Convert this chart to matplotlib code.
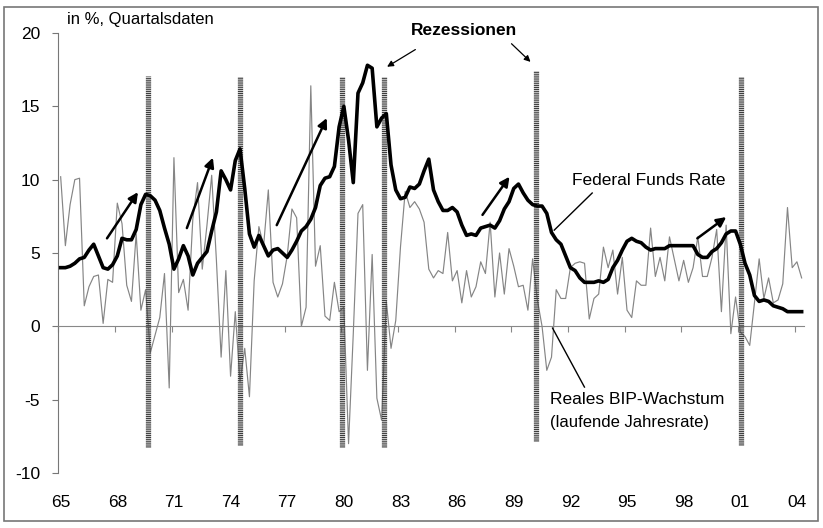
import matplotlib.pyplot as plt
from matplotlib.patches import Rectangle
import numpy as np

plt.rcParams['font.family'] = ['Liberation Sans', 'DejaVu Sans']
plt.rcParams['axes.unicode_minus'] = False

# quarterly data, 1965 Q1 - 2004 Q2
start_year = 1965

fed_funds = [
    4.0, 4.0, 4.1, 4.3,    4.6, 4.7, 5.2, 5.6,    4.8, 4.0, 3.9, 4.2,    # 65-67
    4.8, 6.0, 5.9, 5.9,    6.6, 8.3, 9.0, 8.9,    8.6, 7.9, 6.7, 5.6,    # 68-70
    3.9, 4.6, 5.5, 4.8,    3.5, 4.3, 4.7, 5.1,    6.5, 7.8, 10.6, 10.0,  # 71-73
    9.3, 11.3, 12.1, 9.4,  6.3, 5.4, 6.2, 5.5,    4.8, 5.2, 5.3, 5.0,    # 74-76
    4.7, 5.2, 5.8, 6.5,    6.8, 7.3, 8.1, 9.6,    10.1, 10.2, 10.9, 13.6,  # 77-79
    15.0, 12.7, 9.8, 15.9, 16.6, 17.8, 17.6, 13.6, 14.2, 14.5, 11.0, 9.3,  # 80-82
    8.7, 8.8, 9.5, 9.4,    9.7, 10.6, 11.4, 9.3,  8.5, 7.9, 7.9, 8.1,    # 83-85
    7.8, 6.9, 6.2, 6.3,    6.2, 6.7, 6.8, 6.9,    6.7, 7.2, 8.0, 8.5,    # 86-88
    9.4, 9.7, 9.1, 8.6,    8.3, 8.2, 8.2, 7.7,    6.4, 5.9, 5.6, 4.8,    # 89-91
    4.0, 3.8, 3.3, 3.0,    3.0, 3.0, 3.1, 3.0,    3.2, 4.0, 4.5, 5.2,    # 92-94
    5.8, 6.0, 5.8, 5.7,    5.4, 5.2, 5.3, 5.3,    5.3, 5.5, 5.5, 5.5,    # 95-97
    5.5, 5.5, 5.5, 4.9,    4.7, 4.7, 5.1, 5.3,    5.7, 6.3, 6.5, 6.5,    # 98-00
    5.6, 4.3, 3.5, 2.1,    1.7, 1.8, 1.7, 1.4,    1.3, 1.2, 1.0, 1.0,    # 01-03
    1.0, 1.0,                                                            # 04
]

gdp_growth = [
    10.2, 5.5, 8.3, 10.0,  10.1, 1.4, 2.7, 3.4,   3.5, 0.2, 3.2, 3.0,    # 65-67
    8.4, 7.0, 2.8, 1.7,    6.3, 1.1, 2.5, -1.8,   -0.6, 0.6, 3.6, -4.2,  # 68-70
    11.5, 2.3, 3.2, 1.1,   7.3, 9.8, 3.9, 6.9,    10.3, 4.5, -2.1, 3.8,  # 71-73
    -3.4, 1.0, -3.8, -1.5, -4.8, 3.1, 6.8, 5.5,   9.3, 3.0, 2.0, 2.9,    # 74-76
    4.8, 8.0, 7.4, 0.0,    1.3, 16.4, 4.1, 5.5,   0.7, 0.4, 3.0, 1.0,    # 77-79
    1.3, -8.0, -0.5, 7.7,  8.3, -3.0, 4.9, -4.9,  -6.4, 1.7, -1.5, 0.4,  # 80-82
    5.4, 9.2, 8.1, 8.5,    8.0, 7.1, 3.9, 3.3,    3.8, 3.6, 6.4, 3.1,    # 83-85
    3.8, 1.6, 3.8, 2.0,    2.7, 4.4, 3.6, 7.1,    2.0, 5.0, 2.2, 5.3,    # 86-88
    4.1, 2.7, 2.8, 1.1,    4.6, 1.8, 0.0, -3.0,   -2.1, 2.5, 1.9, 1.9,   # 89-91
    4.0, 4.3, 4.4, 4.3,    0.5, 1.9, 2.2, 5.4,    4.0, 5.2, 2.2, 4.7,    # 92-94
    1.1, 0.6, 3.1, 2.8,    2.8, 6.7, 3.4, 4.7,    3.1, 6.1, 4.6, 3.1,    # 95-97
    4.5, 3.0, 4.0, 6.1,    3.4, 3.4, 4.7, 6.6,    1.0, 6.9, -0.5, 2.0,   # 98-00
    -0.4, -0.7, -1.3, 1.6, 4.6, 1.9, 3.3, 1.6,    1.8, 2.9, 8.1, 4.0,    # 01-03
    4.4, 3.3,                                                            # 04
]

# recession markers (position in years, vertical extent)
recessions = [1969.75, 1974.61, 1980.05, 1982.25, 1990.32, 2001.17]
rec_top = [17.1, 17.0, 17.0, 17.0, 17.4, 17.0]
rec_bottom = [-8.2, -8.1, -8.2, -8.2, -7.8, -8.1]

tick_years = list(range(1965, 2005, 3))
tick_labels = ['65', '68', '71', '74', '77', '80', '83', '86', '89', '92', '95', '98', '01', '04']

# trend arrows (tail -> head)
trend_arrows = [
    ((1967.58, 6.0), (1969.22, 9.15)),
    ((1971.81, 6.7), (1973.19, 11.5)),
    ((1976.57, 6.9), (1979.22, 14.2)),
    ((1987.47, 7.6), (1988.90, 10.2)),
    ((1998.85, 6.0), (2000.38, 7.45)),
]

quarters = start_year + np.arange(len(fed_funds)) / 4 + 0.125

fig = plt.figure(figsize=(8.23, 5.28), dpi=100)
ax = fig.add_axes([58.3 / 823, 55 / 528, (804 - 58.3) / 823, 440 / 528])

ax.plot(quarters, gdp_growth, color='#858585', linewidth=0.85, zorder=2)
ax.vlines(recessions, rec_bottom, rec_top, colors='#3c3c3c', linewidth=3.8,
          linestyles=[(0, (0.22, 0.14))], zorder=3)
ax.plot(quarters, fed_funds, color='black', linewidth=2.6, zorder=4)

ax.set_xlim(start_year, start_year + len(fed_funds) / 4)
ax.set_ylim(-10, 20)

for s in ['top', 'right']:
    ax.spines[s].set_visible(False)
ax.spines['left'].set_color('#777777')
ax.spines['bottom'].set_position(('data', 0))
ax.spines['bottom'].set_color('#888888')

ax.set_yticks(range(-10, 21, 5))
ax.tick_params(axis='y', direction='out', length=4, color='#777777', labelsize=12.5, pad=9)
ax.set_xticks(tick_years)
ax.tick_params(axis='x', direction='out', length=4, color='#888888', labelbottom=False)
for yr, lab in zip(tick_years, tick_labels):
    ax.text(yr + 0.125, -0.066, lab, transform=ax.get_xaxis_transform(),
            ha='center', va='center', fontsize=12.5)

ax.text(1965.46, 20.9, 'in %, Quartalsdaten', fontsize=12, va='center', clip_on=False)

# recession label
ax.text(1986.47, 20.2, 'Rezessionen', fontsize=12.5, fontweight='bold',
        ha='center', va='center', clip_on=False)
ax.annotate('', xy=(1982.29, 17.6), xytext=(1984.04, 18.97), annotation_clip=False,
            arrowprops=dict(arrowstyle='-|>', color='black', lw=0.9, mutation_scale=9))
ax.annotate('', xy=(1990.12, 17.9), xytext=(1988.9, 19.4), annotation_clip=False,
            arrowprops=dict(arrowstyle='-|>', color='black', lw=0.9, mutation_scale=9))

for tail, head in trend_arrows:
    ax.annotate('', xy=head, xytext=tail,
                arrowprops=dict(arrowstyle='-|>', color='black', lw=1.8,
                                mutation_scale=14, shrinkA=0, shrinkB=0))

ax.text(1992.22, 9.97, 'Federal Funds Rate', fontsize=12.5, va='center')
ax.plot([1993.28, 1991.27], [9.09, 6.56], color='black', linewidth=1)

ax.text(1991.02, -5.02, 'Reales BIP-Wachstum', fontsize=12.5, va='center')
ax.text(1991.02, -6.59, '(laufende Jahresrate)', fontsize=12, va='center')
ax.plot([1991.18, 1992.87], [-0.12, -4.14], color='black', linewidth=1)

fig.patches.append(Rectangle((4 / 823, 7 / 528), 814 / 823, 514 / 528, fill=False,
                             edgecolor='#777777', linewidth=1.2, transform=fig.transFigure))

fig.savefig('out.png', dpi=100)
